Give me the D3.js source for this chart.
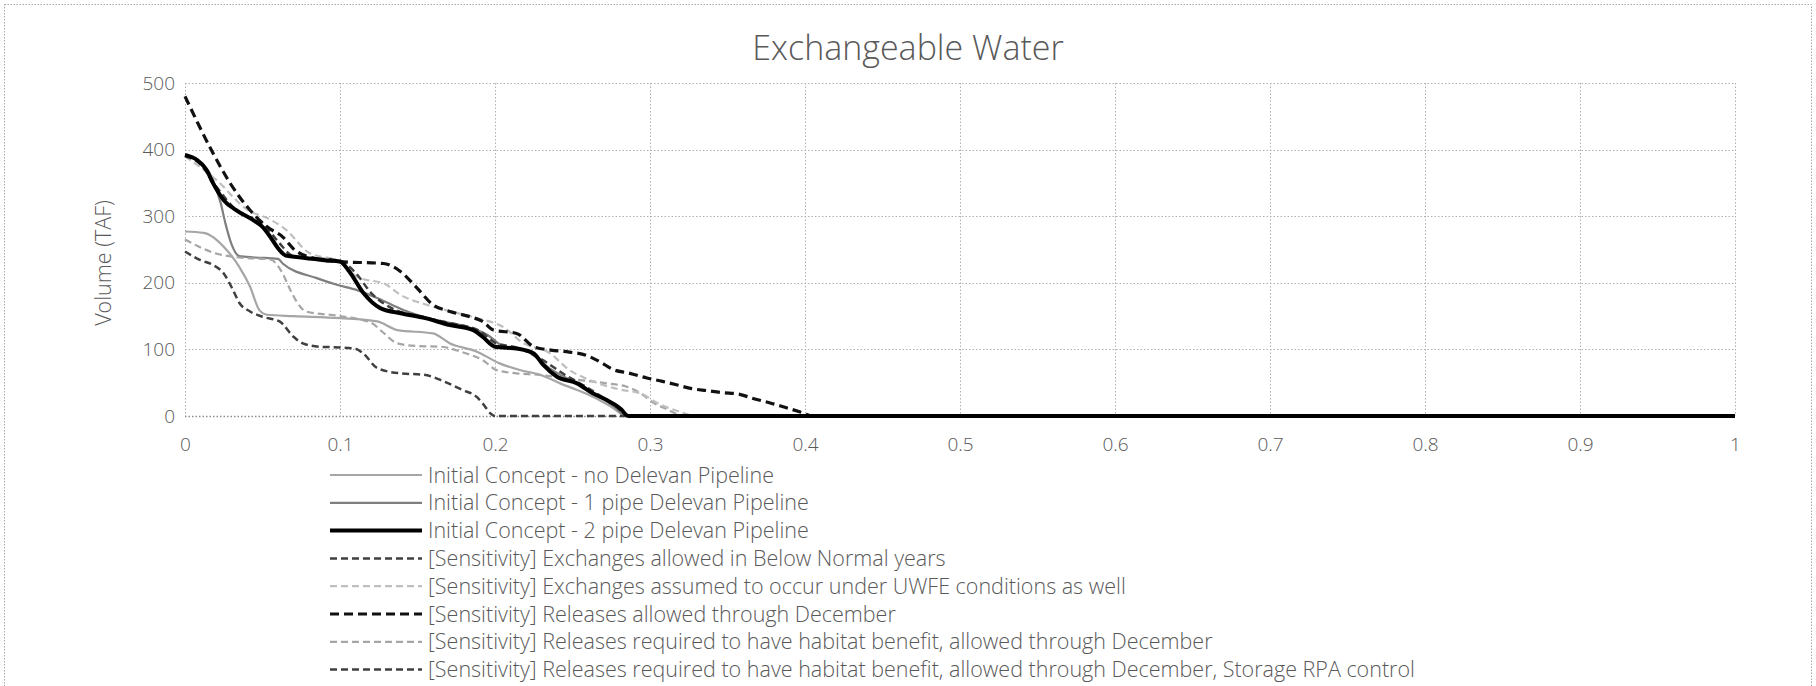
<!DOCTYPE html>
<html>
<head>
<meta charset="utf-8">
<script src="https://cdn.jsdelivr.net/npm/d3@7"></script>
<style>
  html, body { margin: 0; padding: 0; background: #fff; }
  svg { display: block; }
  text { font-family: "Open Sans", "Liberation Sans", sans-serif; font-weight: 300; }
</style>
</head>
<body>
<svg id="chart" width="1816" height="686"></svg>
<script>
// ---------- DATA ----------
const chartTitle = "Exchangeable Water";
const yAxisTitle = "Volume (TAF)";
const xTickValues = [0, 0.1, 0.2, 0.3, 0.4, 0.5, 0.6, 0.7, 0.8, 0.9, 1];
const xTickLabels = ["0", "0.1", "0.2", "0.3", "0.4", "0.5", "0.6", "0.7", "0.8", "0.9", "1"];
const yTickValues = [0, 100, 200, 300, 400, 500];
const yTickLabels = ["0", "100", "200", "300", "400", "500"];

const seriesNames = [
  "Initial Concept - no Delevan Pipeline",
  "Initial Concept - 1 pipe Delevan Pipeline",
  "Initial Concept - 2 pipe Delevan Pipeline",
  "[Sensitivity] Exchanges allowed in Below Normal years",
  "[Sensitivity] Exchanges assumed to occur under UWFE conditions as well",
  "[Sensitivity] Releases allowed through December",
  "[Sensitivity] Releases required to have habitat benefit, allowed through December",
  "[Sensitivity] Releases required to have habitat benefit, allowed through December, Storage RPA control"
];

// exceedance probability (x) and volume in TAF (y) per series
const noDelevanX = [0, 0.012, 0.027, 0.035, 0.042, 0.048, 0.053, 0.07, 0.1, 0.124, 0.137, 0.16, 0.171, 0.188, 0.203, 0.216, 0.229, 0.242, 0.253, 0.263, 0.275, 0.285, 1];
const noDelevanY = [277, 275, 249, 224, 194, 159, 152, 150, 147, 142, 129, 124, 109, 97, 79, 69, 62, 49, 39, 29, 14, 0, 0];

const onePipeX = [0, 0.008, 0.018, 0.023, 0.026, 0.03, 0.035, 0.045, 0.06, 0.063, 0.085, 0.098, 0.111, 0.125, 0.14, 0.16, 0.18, 0.195, 0.205, 0.22, 0.235, 0.25, 0.265, 0.278, 0.284, 1];
const onePipeY = [390, 385, 354, 320, 290, 258, 240, 238, 236, 229, 207, 197, 189, 176, 160, 145, 135, 122, 105, 98, 72, 52, 33, 12, 0, 0];

const twoPipeX = [0, 0.008, 0.014, 0.018, 0.025, 0.033, 0.044, 0.05, 0.055, 0.06, 0.065, 0.075, 0.09, 0.1, 0.106, 0.115, 0.126, 0.14, 0.155, 0.17, 0.186, 0.192, 0.2, 0.215, 0.225, 0.231, 0.24, 0.253, 0.263, 0.272, 0.281, 0.286, 1];
const twoPipeY = [392, 384, 369, 350, 324, 309, 294, 284, 269, 252, 241, 238, 234, 232, 217, 185, 162, 154, 147, 137, 129, 119, 104, 101, 94, 77, 59, 49, 34, 24, 11, 0, 0];

const exchBNX = [0, 0.01, 0.02, 0.035, 0.05, 0.06, 0.07, 0.1, 0.11, 0.12, 0.135, 0.15, 0.17, 0.19, 0.2, 0.215, 0.23, 0.245, 0.26, 0.275, 0.288, 1];
const exchBNY = [390, 378, 345, 305, 290, 262, 240, 233, 215, 185, 160, 150, 140, 128, 110, 102, 85, 62, 42, 20, 0, 0];

const exchUWFEX = [0, 0.02, 0.04, 0.055, 0.065, 0.08, 0.1, 0.111, 0.13, 0.139, 0.156, 0.175, 0.19, 0.205, 0.218, 0.235, 0.248, 0.26, 0.28, 0.294, 0.305, 0.316, 0.33, 1];
const exchUWFEY = [390, 355, 310, 295, 280, 245, 232, 209, 197, 182, 167, 155, 146, 134, 110, 95, 69, 55, 40, 34, 19, 9, 0, 0];

const relDecX = [0, 0.018, 0.029, 0.042, 0.053, 0.063, 0.071, 0.085, 0.098, 0.128, 0.139, 0.149, 0.16, 0.171, 0.184, 0.192, 0.199, 0.214, 0.225, 0.236, 0.248, 0.259, 0.268, 0.276, 0.287, 0.298, 0.308, 0.317, 0.327, 0.337, 0.347, 0.357, 0.367, 0.377, 0.387, 0.397, 0.405, 1];
const relDecY = [480, 395, 350, 309, 284, 269, 249, 236, 232, 229, 217, 194, 167, 157, 149, 142, 129, 124, 104, 99, 96, 91, 81, 70, 64, 57, 52, 47, 41, 38, 35, 33, 26, 20, 13, 6, 0, 0];

const habitatX = [0, 0.02, 0.035, 0.055, 0.063, 0.068, 0.072, 0.078, 0.1, 0.12, 0.128, 0.137, 0.15, 0.165, 0.18, 0.192, 0.201, 0.214, 0.227, 0.255, 0.272, 0.285, 0.294, 0.302, 0.311, 0.322, 1];
const habitatY = [265, 244, 238, 235, 214, 189, 172, 157, 150, 140, 125, 109, 105, 104, 95, 84, 69, 64, 62, 54, 49, 44, 34, 20, 10, 0, 0];

const storageRPAX = [0, 0.01, 0.018, 0.025, 0.031, 0.035, 0.042, 0.05, 0.061, 0.07, 0.076, 0.087, 0.1, 0.11, 0.115, 0.124, 0.139, 0.154, 0.167, 0.179, 0.188, 0.192, 0.197, 0.2, 1];
const storageRPAY = [247, 234, 227, 214, 189, 170, 157, 149, 142, 119, 109, 104, 103, 101, 94, 72, 64, 62, 52, 39, 29, 19, 4, 0, 0];

const seriesX = [noDelevanX, onePipeX, twoPipeX, exchBNX, exchUWFEX, relDecX, habitatX, storageRPAX];
const seriesY = [noDelevanY, onePipeY, twoPipeY, exchBNY, exchUWFEY, relDecY, habitatY, storageRPAY];

// ---------- STYLES ----------
const seriesStyle = [
  { color: "#a6a6a6", width: 2.2, dash: null },
  { color: "#7f7f7f", width: 2.2, dash: null },
  { color: "#000000", width: 4,   dash: null },
  { color: "#404040", width: 2.5, dash: "7,4" },
  { color: "#bfbfbf", width: 2.2, dash: "7,4" },
  { color: "#111111", width: 3.2, dash: "9,5" },
  { color: "#a6a6a6", width: 2.2, dash: "7,4" },
  { color: "#404040", width: 2.5, dash: "7,4" }
];

// ---------- LAYOUT ----------
const svg = d3.select("#chart");
const W = 1816, H = 686;
const plot = { left: 185, right: 1735, top: 83, bottom: 416 };

svg.append("rect").attr("x", 4.5).attr("y", 4.5).attr("width", W - 9).attr("height", H + 20)
  .attr("fill", "none").attr("stroke", "#a6a6a6").attr("stroke-dasharray", "1.5,1.5");

const x = d3.scaleLinear().domain([0, 1]).range([plot.left, plot.right]);
const y = d3.scaleLinear().domain([0, 500]).range([plot.bottom, plot.top]);

// gridlines
const grid = svg.append("g");
grid.selectAll("line.h").data(yTickValues).join("line")
  .attr("x1", plot.left).attr("x2", plot.right)
  .attr("y1", d => Math.round(y(d)) + 0.5).attr("y2", d => Math.round(y(d)) + 0.5)
  .attr("stroke", d => d === 0 ? "#8c8c8c" : "#b0b0b0").attr("stroke-width", d => d === 0 ? 1.5 : 1)
  .attr("stroke-dasharray", "1.5,2");
grid.selectAll("line.v").data(xTickValues).join("line")
  .attr("y1", plot.top).attr("y2", plot.bottom)
  .attr("x1", d => Math.round(x(d)) + 0.5).attr("x2", d => Math.round(x(d)) + 0.5)
  .attr("stroke", "#b0b0b0").attr("stroke-width", 1)
  .attr("stroke-dasharray", "1.5,2");

// axes (labels only)
const xAxis = d3.axisBottom(x).tickValues(xTickValues).tickFormat((d, i) => xTickLabels[i]).tickSize(0).tickPadding(22);
const gx = svg.append("g").attr("transform", `translate(0,${plot.bottom})`).call(xAxis);
gx.select(".domain").remove();
gx.selectAll("text").attr("fill", "#595959").style("font-size", "19px");

const yAxis = d3.axisLeft(y).tickValues(yTickValues).tickFormat((d, i) => yTickLabels[i]).tickSize(0).tickPadding(10);
const gy = svg.append("g").attr("transform", `translate(${plot.left},0)`).call(yAxis);
gy.select(".domain").remove();
gy.selectAll("text").attr("fill", "#595959").style("font-size", "19px");
gx.attr("font-family", null); gy.attr("font-family", null);

// title
svg.append("text").attr("x", W / 2).attr("y", 60)
  .attr("text-anchor", "middle").attr("fill", "#595959").style("font-size", "34px")
  .text(chartTitle);

// y axis title
svg.append("text").attr("transform", `translate(111,263) rotate(-90)`)
  .attr("text-anchor", "middle").attr("fill", "#595959").style("font-size", "21.5px")
  .text(yAxisTitle);

// lines
const line = d3.line().x(d => x(d[0])).y(d => y(d[1])).curve(d3.curveMonotoneX);
const drawOrder = [0, 1, 6, 4, 3, 7, 5, 2];
const gLines = svg.append("g");
drawOrder.forEach(i => {
  const pts = seriesX[i].map((xv, k) => [xv, seriesY[i][k]]);
  const s = seriesStyle[i];
  gLines.append("path").datum(pts).attr("d", line)
    .attr("fill", "none").attr("stroke", s.color).attr("stroke-width", s.width)
    .attr("stroke-dasharray", s.dash).attr("stroke-linejoin", "round");
});

// legend
const legendTop = 475, legendStep = 27.8;
const lg = svg.append("g");
seriesNames.forEach((name, i) => {
  const s = seriesStyle[i];
  const yy = legendTop + i * legendStep;
  lg.append("line").attr("x1", 330).attr("x2", 422).attr("y1", yy).attr("y2", yy)
    .attr("stroke", s.color).attr("stroke-width", s.width).attr("stroke-dasharray", s.dash);
  lg.append("text").attr("x", 428).attr("y", yy).attr("dy", "0.35em")
    .attr("fill", "#595959").style("font-size", "21.5px").text(name);
});
</script>
</body>
</html>
